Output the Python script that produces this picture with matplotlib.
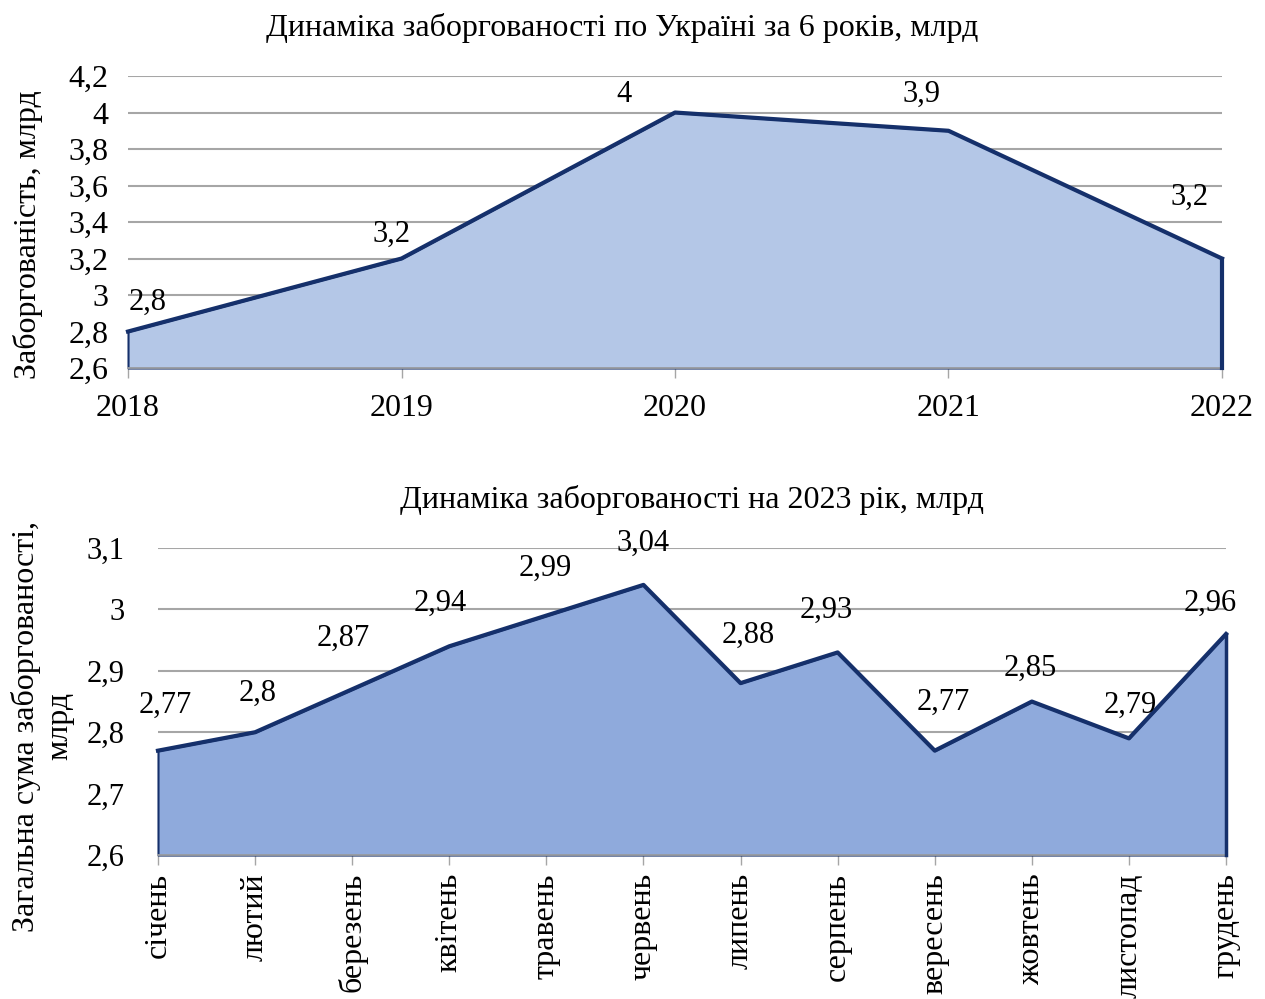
import matplotlib.pyplot as plt
from matplotlib.ticker import FuncFormatter

plt.rcParams["font.family"] = ["Liberation Serif", "DejaVu Serif"]

# --- data ---
years = [2018, 2019, 2020, 2021, 2022]
debt_years = [2.8, 3.2, 4.0, 3.9, 3.2]
year_labels = ["2,8", "3,2", "4", "3,9", "3,2"]

months = ["січень", "лютий", "березень", "квітень", "травень", "червень",
          "липень", "серпень", "вересень", "жовтень", "листопад", "грудень"]
debt_months = [2.77, 2.80, 2.87, 2.94, 2.99, 3.04, 2.88, 2.93, 2.77, 2.85, 2.79, 2.96]
month_labels = ["2,77", "2,8", "2,87", "2,94", "2,99", "3,04",
                "2,88", "2,93", "2,77", "2,85", "2,79", "2,96"]

# label offsets in pixels (dx, dy)
top_off = [(20, 29), (-10, 24), (-51, 18), (-27, 36), (-32, 61)]
bot_off = [(7, 45), (3, 39), (-9, 51), (-9, 43), (-1, 47), (0, 42),
           (8, 48), (-11, 42), (8, 48), (-2, 33), (1, 33), (-16, 31)]

NAVY = "#15306B"
GRID = "#A6A6A6"
FS = 22


def comma(v, _):
    s = f"{v:.2f}".rstrip("0").rstrip(".")
    return s.replace(".", ",")


def style(ax):
    for s in ("top", "right", "left"):
        ax.spines[s].set_visible(False)
    ax.spines["bottom"].set_color(GRID)
    ax.spines["bottom"].set_linewidth(1.2)
    ax.grid(axis="y", color=GRID, linewidth=1.5)
    ax.set_axisbelow(True)
    ax.tick_params(axis="y", length=0, labelsize=FS)
    ax.tick_params(axis="x", length=7, color=GRID, width=1.0, labelsize=FS)
    ax.yaxis.set_major_formatter(FuncFormatter(comma))


fig = plt.figure(figsize=(12.65, 9.99), dpi=100)

# top chart
ax1 = fig.add_axes([0.1012, 0.6316, 0.8648, 0.2923])
ax1.fill_between(years, debt_years, 2.6, color="#B4C7E7", edgecolor=NAVY,
                 linewidth=1.5, zorder=2, clip_on=False)
ax1.plot(years, debt_years, color=NAVY, linewidth=3, zorder=3, clip_on=False)
ax1.plot([years[-1], years[-1]], [2.6, debt_years[-1]], color=NAVY, linewidth=3,
         zorder=3, clip_on=False)
ax1.set_xlim(2018, 2022)
ax1.set_ylim(2.6, 4.2)
ax1.set_yticks([2.6, 2.8, 3.0, 3.2, 3.4, 3.6, 3.8, 4.0, 4.2])
ax1.set_xticks(years)
style(ax1)
ax1.tick_params(axis="y", pad=14, labelsize=23)
ax1.tick_params(axis="x", pad=12, labelsize=23)
for x, y, t, (dx, dy) in zip(years, debt_years, year_labels, top_off):
    ax1.annotate(t, (x, y), xytext=(dx * 0.72, dy * 0.72), textcoords="offset points",
                 ha="center", va="center", fontsize=FS, zorder=4)

# bottom chart
ax2 = fig.add_axes([0.1249, 0.1441, 0.8443, 0.3073])
xs = list(range(len(months)))
ax2.fill_between(xs, debt_months, 2.6, color="#8FAADC", edgecolor=NAVY,
                 linewidth=1.5, zorder=2, clip_on=False)
ax2.plot(xs, debt_months, color=NAVY, linewidth=3, zorder=3, clip_on=False)
ax2.plot([xs[-1], xs[-1]], [2.6, debt_months[-1]], color=NAVY, linewidth=2.5,
         zorder=3, clip_on=False)
ax2.set_xlim(0, len(months) - 1)
ax2.set_ylim(2.6, 3.1)
ax2.set_yticks([2.6, 2.7, 2.8, 2.9, 3.0, 3.1])
ax2.set_xticks(xs)
ax2.set_xticklabels(months, rotation=90)
style(ax2)
ax2.tick_params(axis="y", pad=24)
ax2.tick_params(axis="x", pad=6, labelsize=23)
for x, y, t, (dx, dy) in zip(xs, debt_months, month_labels, bot_off):
    ax2.annotate(t, (x, y), xytext=(dx * 0.72, dy * 0.72), textcoords="offset points",
                 ha="center", va="center", fontsize=FS, zorder=4)

fig.text(0.492, 0.972, "Динаміка заборгованості по Україні за 6 років, млрд",
         ha="center", va="center", fontsize=23)
fig.text(0.547, 0.4995, "Динаміка заборгованості на 2023 рік, млрд",
         ha="center", va="center", fontsize=23)
fig.text(0.022, 0.765, "Заборгованість, млрд", rotation=90,
         ha="center", va="center", fontsize=23)
fig.text(0.034, 0.273, "Загальна сума заборгованості,\nмлрд", rotation=90,
         ha="center", va="center", fontsize=23, multialignment="center")

fig.savefig("out.png", dpi=100)
